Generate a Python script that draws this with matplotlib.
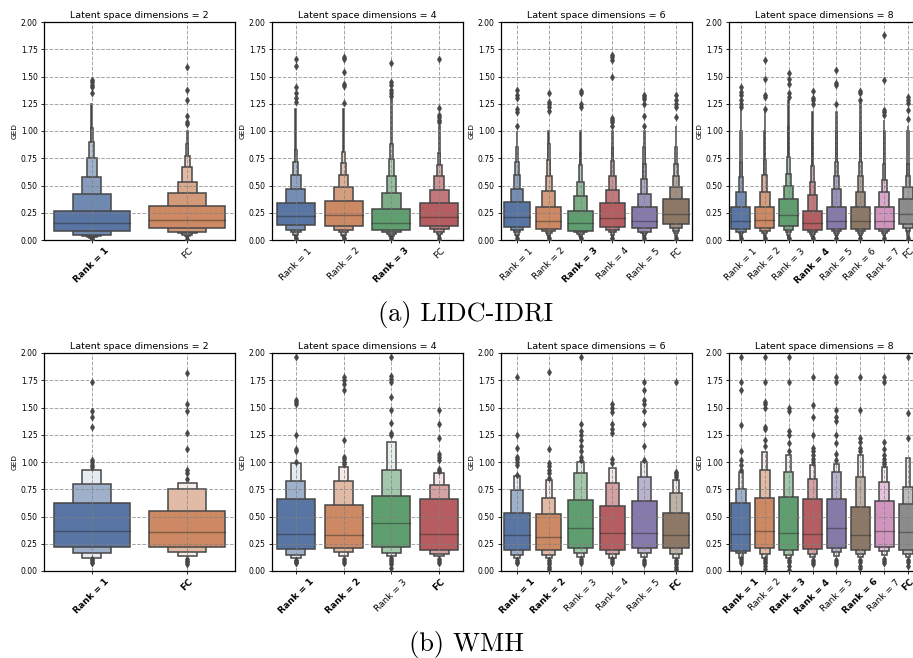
import colorsys
import matplotlib
matplotlib.use("Agg")
import matplotlib.pyplot as plt
import matplotlib.colors as mcolors

deep = ["#4C72B0", "#DD8452", "#55A868", "#C44E52", "#8172B3", "#937860", "#DA8BC3", "#8C8C8C"]
edge = "#474747"

# ---------------- LIDC-IDRI ----------------
lidc2_labels = ["Rank = 1", "FC"]
lidc2_bold = [True, False]
lidc2_median = [0.153, 0.184]
lidc2_upper = [[0.267, 0.42, 0.577, 0.755, 0.895, 1.03, 1.25],
               [0.316, 0.43, 0.534, 0.666, 0.773, 0.88, 1.0]]
lidc2_lower = [[0.083, 0.046, 0.037, 0.028, 0.02, 0.013, 0.008],
               [0.107, 0.077, 0.06, 0.05, 0.04, 0.03, 0.02]]
lidc2_outliers = [[1.35, 1.40, 1.42, 1.45, 1.47, 0.0, 0.005],
                  [1.06, 1.08, 1.14, 1.28, 1.38, 1.59, 0.0, 0.01]]

lidc4_labels = ["Rank = 1", "Rank = 2", "Rank = 3", "FC"]
lidc4_bold = [False, False, True, False]
lidc4_median = [0.221, 0.23, 0.153, 0.215]
lidc4_upper = [[0.344, 0.466, 0.592, 0.715, 0.83, 1.2],
               [0.362, 0.485, 0.60, 0.705, 0.81, 1.2],
               [0.282, 0.43, 0.583, 0.742, 0.88, 1.3],
               [0.337, 0.457, 0.583, 0.69, 0.80, 1.05]]
lidc4_lower = [[0.135, 0.092, 0.07, 0.05, 0.035, 0.02],
               [0.129, 0.089, 0.07, 0.05, 0.035, 0.02],
               [0.092, 0.07, 0.055, 0.04, 0.03, 0.02],
               [0.132, 0.098, 0.075, 0.055, 0.04, 0.02]]
lidc4_outliers = [[1.27, 1.30, 1.35, 1.40, 1.60, 1.66, 0.0, 0.02],
                  [1.26, 1.41, 1.43, 1.54, 1.66, 1.68, 0.0, 0.02],
                  [1.32, 1.35, 1.38, 1.42, 1.45, 1.62, 0.0, 0.02],
                  [1.08, 1.10, 1.13, 1.15, 1.21, 1.66, 0.0, 0.02]]

lidc6_labels = ["Rank = 1", "Rank = 2", "Rank = 3", "Rank = 4", "Rank = 5", "FC"]
lidc6_bold = [False, False, True, False, False, False]
lidc6_median = [0.215, 0.172, 0.16, 0.203, 0.178, 0.242]
lidc6_upper = [[0.347, 0.466, 0.60, 0.72, 0.85, 1.0],
               [0.30, 0.448, 0.583, 0.73, 0.88, 1.0],
               [0.27, 0.40, 0.528, 0.684, 0.80, 1.0],
               [0.337, 0.457, 0.59, 0.724, 0.85, 1.0],
               [0.30, 0.42, 0.558, 0.70, 0.85, 1.0],
               [0.377, 0.49, 0.59, 0.70, 0.85, 1.05]]
lidc6_lower = [[0.123, 0.092, 0.07, 0.05, 0.035, 0.02],
               [0.098, 0.083, 0.065, 0.05, 0.035, 0.02],
               [0.086, 0.07, 0.055, 0.04, 0.03, 0.02],
               [0.123, 0.092, 0.07, 0.05, 0.035, 0.02],
               [0.107, 0.077, 0.06, 0.045, 0.03, 0.02],
               [0.144, 0.107, 0.08, 0.06, 0.04, 0.02]]
lidc6_outliers = [[1.05, 1.17, 1.20, 1.30, 1.33, 1.38, 0.0, 0.02],
                  [1.18, 1.22, 1.25, 1.27, 1.35, 0.0, 0.02],
                  [1.22, 1.25, 1.35, 1.37, 0.0, 0.02],
                  [1.05, 1.08, 1.10, 1.12, 1.50, 1.65, 1.68, 1.70, 0.0, 0.02],
                  [1.05, 1.14, 1.25, 1.29, 1.31, 1.33, 0.0, 0.02],
                  [1.13, 1.22, 1.25, 1.28, 1.33, 0.0, 0.02]]

lidc8_labels = ["Rank = 1", "Rank = 2", "Rank = 3", "Rank = 4", "Rank = 5", "Rank = 6", "Rank = 7", "FC"]
lidc8_bold = [False, False, False, True, False, False, False, False]
lidc8_median = [0.175, 0.184, 0.23, 0.153, 0.178, 0.178, 0.178, 0.242]
lidc8_upper = [[0.30, 0.44, 0.58, 0.72, 1.0, 1.2],
               [0.307, 0.44, 0.595, 0.73, 1.0, 1.19],
               [0.374, 0.497, 0.61, 0.76, 1.05, 1.28],
               [0.27, 0.417, 0.534, 0.68, 1.0, 1.17],
               [0.307, 0.466, 0.59, 0.72, 1.0, 1.17],
               [0.30, 0.436, 0.59, 0.72, 1.0, 1.26],
               [0.30, 0.436, 0.552, 0.70, 1.0, 1.10],
               [0.374, 0.49, 0.59, 0.70, 1.0, 1.05]]
lidc8_lower = [[0.098, 0.077, 0.06, 0.045, 0.03, 0.02],
               [0.11, 0.086, 0.065, 0.05, 0.03, 0.02],
               [0.129, 0.092, 0.07, 0.05, 0.03, 0.02],
               [0.092, 0.07, 0.055, 0.04, 0.03, 0.02],
               [0.098, 0.083, 0.065, 0.05, 0.03, 0.02],
               [0.098, 0.083, 0.065, 0.05, 0.03, 0.02],
               [0.098, 0.083, 0.065, 0.05, 0.03, 0.02],
               [0.144, 0.107, 0.08, 0.06, 0.04, 0.02]]
lidc8_outliers = [[1.22, 1.25, 1.28, 1.33, 1.36, 1.40, 0.0, 0.02],
                  [1.20, 1.31, 1.33, 1.48, 1.65, 0.0, 0.02],
                  [1.31, 1.35, 1.43, 1.48, 1.53, 0.0, 0.02],
                  [1.25, 1.28, 1.30, 1.37, 0.0, 0.02],
                  [1.25, 1.42, 1.44, 1.56, 0.0, 0.02],
                  [1.28, 1.35, 1.37, 0.0, 0.02],
                  [1.15, 1.17, 1.19, 1.47, 1.88, 0.0, 0.02],
                  [1.11, 1.19, 1.26, 1.28, 1.31, 0.0, 0.02]]

# ---------------- WMH ----------------
wmh2_labels = ["Rank = 1", "FC"]
wmh2_bold = [True, True]
wmh2_median = [0.368, 0.359]
wmh2_upper = [[0.62, 0.797, 0.923], [0.549, 0.748, 0.81]]
wmh2_lower = [[0.221, 0.169, 0.123], [0.221, 0.178, 0.141]]
wmh2_outliers = [[0.95, 0.97, 1.0, 1.02, 1.32, 1.41, 1.47, 1.73, 0.07, 0.08, 0.10, 0.11],
                 [0.84, 0.90, 0.93, 1.12, 1.27, 1.47, 1.53, 1.82, 0.06, 0.08, 0.09, 0.11]]

wmh4_labels = ["Rank = 1", "Rank = 2", "Rank = 3", "FC"]
wmh4_bold = [True, True, False, True]
wmh4_median = [0.337, 0.328, 0.436, 0.344]
wmh4_upper = [[0.656, 0.828, 0.988], [0.607, 0.822, 0.951],
              [0.69, 0.926, 1.187], [0.656, 0.788, 0.896]]
wmh4_lower = [[0.205, 0.144, 0.12], [0.212, 0.175, 0.135],
              [0.221, 0.166, 0.14], [0.196, 0.16, 0.135]]
wmh4_outliers = [[1.0, 1.10, 1.12, 1.25, 1.53, 1.55, 1.57, 1.96, 0.07, 0.08, 0.09, 0.10],
                 [0.98, 1.0, 1.03, 1.05, 1.20, 1.66, 1.72, 1.75, 1.78, 0.07, 0.09, 0.11],
                 [1.25, 1.27, 1.36, 1.48, 1.60, 1.73, 1.76, 1.79, 1.96, 0.03, 0.06, 0.08, 0.10, 0.12],
                 [0.92, 0.94, 1.02, 1.05, 1.07, 1.22, 1.35, 1.48, 0.07, 0.09, 0.11]]

wmh6_labels = ["Rank = 1", "Rank = 2", "Rank = 3", "Rank = 4", "Rank = 5", "FC"]
wmh6_bold = [True, True, False, False, False, True]
wmh6_median = [0.328, 0.313, 0.39, 0.35, 0.353, 0.334]
wmh6_upper = [[0.534, 0.742, 0.87], [0.521, 0.666, 0.834], [0.65, 0.902, 1.0],
              [0.598, 0.804, 0.942], [0.641, 0.859, 1.0], [0.534, 0.712, 0.834]]
wmh6_lower = [[0.19, 0.144, 0.12], [0.19, 0.144, 0.12], [0.215, 0.169, 0.13],
              [0.196, 0.16, 0.12], [0.215, 0.169, 0.13], [0.215, 0.16, 0.12]]
wmh6_outliers = [[0.88, 0.97, 1.0, 1.03, 1.05, 1.13, 1.25, 1.78, 0.07, 0.08, 0.10],
                 [0.85, 0.90, 0.93, 0.96, 0.99, 1.12, 1.83, 0.02, 0.04, 0.06, 0.08, 0.10],
                 [1.02, 1.05, 1.10, 1.15, 1.20, 1.25, 1.28, 1.35, 1.96, 0.07, 0.09, 0.11],
                 [0.99, 1.03, 1.27, 1.30, 1.35, 1.46, 1.50, 1.53, 0.07, 0.09, 0.11],
                 [1.02, 1.15, 1.35, 1.47, 1.53, 1.57, 1.66, 1.73, 0.06, 0.08, 0.10],
                 [0.86, 0.88, 0.90, 0.91, 1.73, 0.0, 0.02, 0.04, 0.06, 0.08, 0.10]]

wmh8_labels = ["Rank = 1", "Rank = 2", "Rank = 3", "Rank = 4", "Rank = 5", "Rank = 6", "Rank = 7", "FC"]
wmh8_bold = [True, False, True, True, False, True, False, True]
wmh8_median = [0.337, 0.368, 0.353, 0.344, 0.399, 0.331, 0.368, 0.356]
wmh8_upper = [[0.626, 0.755, 0.91], [0.666, 0.926, 1.095], [0.675, 0.905, 1.064],
              [0.663, 0.84, 0.972], [0.656, 0.911, 0.98], [0.589, 0.865, 1.061],
              [0.644, 0.813, 0.95], [0.613, 0.773, 1.033]]
wmh8_lower = [[0.184, 0.169, 0.12], [0.215, 0.16, 0.12], [0.196, 0.15, 0.12],
              [0.202, 0.16, 0.13], [0.215, 0.175, 0.14], [0.19, 0.16, 0.13],
              [0.221, 0.184, 0.15], [0.196, 0.16, 0.13]]
wmh8_outliers = [[0.93, 0.97, 1.02, 1.10, 1.34, 1.66, 1.73, 1.96, 0.07, 0.09, 0.11],
                 [1.15, 1.20, 1.30, 1.32, 1.50, 1.53, 1.55, 1.73, 1.96, 0.02, 0.05, 0.07, 0.09, 0.11],
                 [1.10, 1.17, 1.25, 1.28, 1.47, 1.50, 1.73, 1.96, 0.01, 0.05, 0.08, 0.10],
                 [1.0, 1.03, 1.06, 1.10, 1.13, 1.25, 1.41, 1.52, 1.78, 0.06, 0.08, 0.10],
                 [1.02, 1.07, 1.17, 1.25, 1.38, 1.41, 1.48, 1.73, 1.78, 0.06, 0.08, 0.10],
                 [1.10, 1.13, 1.18, 1.22, 1.48, 1.78, 0.03, 0.05, 0.08, 0.10],
                 [0.98, 1.0, 1.03, 1.06, 1.12, 1.18, 1.73, 1.78, 0.07, 0.09, 0.11],
                 [1.22, 1.45, 1.96, 0.05, 0.08, 0.10]]


def desat(c, prop=0.75):
    r, g, b = mcolors.to_rgb(c)
    h, l, s = colorsys.rgb_to_hls(r, g, b)
    return colorsys.hls_to_rgb(h, l, s * prop)


def mix(a, b, t):
    return tuple(x * (1 - t) + y * t for x, y in zip(a, b))


def draw_panel(ax, dim, labels, bold, median, upper, lower, outliers):
    for i in range(len(labels)):
        base = desat(deep[i])
        light = mix(base, (1, 1, 1), 0.85)
        n = len(upper[i])
        # outer (narrow) levels first, IQR box on top
        for j in reversed(range(n)):
            col = mix(base, light, j / (n - 1))
            ax.bar(i, upper[i][j] - lower[i][j], bottom=lower[i][j], width=0.8 / 2 ** j,
                   color=col, edgecolor=edge, linewidth=1.1)
        ax.plot([i - 0.4, i + 0.4], [median[i], median[i]], color=".15", alpha=.45, lw=1.0)
        ax.scatter([i] * len(outliers[i]), outliers[i], marker="d", c=edge, s=14, zorder=3,
                   linewidths=0.3)

    ax.set_xlim(-0.5, len(labels) - 0.5)
    ax.set_ylim(0, 2)
    ax.set_yticks([0.25 * k for k in range(9)])
    ax.set_yticklabels([f"{0.25 * k:.2f}" for k in range(9)], fontsize=5.5)
    ax.set_xticks(range(len(labels)))
    ax.set_xticklabels(labels, rotation=45, fontsize=6.5)
    for t, b in zip(ax.get_xticklabels(), bold):
        if b:
            t.set_fontweight("bold")
    ax.tick_params(length=2.5, width=0.6, pad=2)
    ax.set_ylabel("GED", fontsize=5.3, labelpad=2)
    ax.set_title(f"Latent space dimensions = {dim}", fontsize=6.8, pad=3)
    ax.grid(True, linestyle="--", color="gray", alpha=0.7, linewidth=0.7)
    for s in ax.spines.values():
        s.set_linewidth(0.9)


fig = plt.figure(figsize=(9.13, 6.58), dpi=100)
W, H = 913, 658
lefts = [44, 272, 501, 729]

rows = [
    (240, [(2, lidc2_labels, lidc2_bold, lidc2_median, lidc2_upper, lidc2_lower, lidc2_outliers),
           (4, lidc4_labels, lidc4_bold, lidc4_median, lidc4_upper, lidc4_lower, lidc4_outliers),
           (6, lidc6_labels, lidc6_bold, lidc6_median, lidc6_upper, lidc6_lower, lidc6_outliers),
           (8, lidc8_labels, lidc8_bold, lidc8_median, lidc8_upper, lidc8_lower, lidc8_outliers)]),
    (571, [(2, wmh2_labels, wmh2_bold, wmh2_median, wmh2_upper, wmh2_lower, wmh2_outliers),
           (4, wmh4_labels, wmh4_bold, wmh4_median, wmh4_upper, wmh4_lower, wmh4_outliers),
           (6, wmh6_labels, wmh6_bold, wmh6_median, wmh6_upper, wmh6_lower, wmh6_outliers),
           (8, wmh8_labels, wmh8_bold, wmh8_median, wmh8_upper, wmh8_lower, wmh8_outliers)]),
]

for bottom_px, panels in rows:
    for left_px, p in zip(lefts, panels):
        ax = fig.add_axes([left_px / W, 1 - bottom_px / H, 191 / W, 218 / H])
        draw_panel(ax, *p)

fig.text(466 / W, 1 - 314 / H, "(a) LIDC-IDRI", fontsize=19, family="cmr10", ha="center", va="center")
fig.text(466 / W, 1 - 645 / H, "(b) WMH", fontsize=19, family="cmr10", ha="center", va="center")

fig.savefig("out.png", dpi=100)
